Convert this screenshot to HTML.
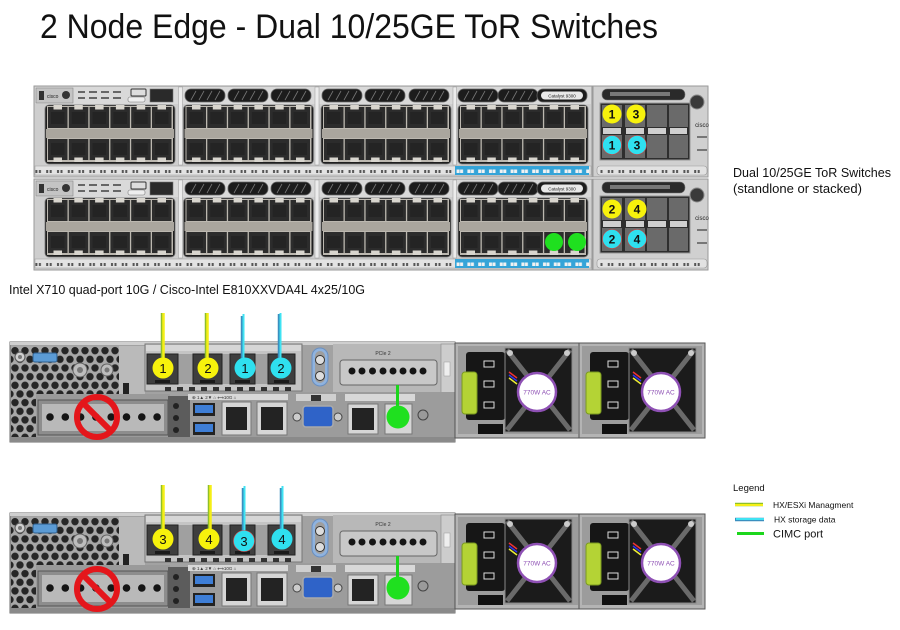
<!DOCTYPE html>
<html><head><meta charset="utf-8"><style>
html,body{margin:0;padding:0;background:#fff;}
svg{display:block;}
text{font-family:"Liberation Sans",sans-serif;}
</style></head><body>
<svg width="900" height="630" viewBox="0 0 900 630" xmlns="http://www.w3.org/2000/svg">
<defs>
 <pattern id="hex" width="10" height="17.32" patternUnits="userSpaceOnUse">
  <rect width="10" height="17.32" fill="#a8a8a8"/>
  <circle cx="0" cy="0" r="3.7" fill="#262626"/><circle cx="10" cy="0" r="3.7" fill="#262626"/>
  <circle cx="5" cy="8.66" r="3.7" fill="#262626"/>
  <circle cx="0" cy="17.32" r="3.7" fill="#262626"/><circle cx="10" cy="17.32" r="3.7" fill="#262626"/>
 </pattern>
 <pattern id="marks" width="10.8" height="9" patternUnits="userSpaceOnUse">
  <rect x="3" y="3" width="2" height="3" fill="#555"/><rect x="6.5" y="3" width="2" height="3" fill="#555"/>
 </pattern>
 <pattern id="marksB" width="10.8" height="9" patternUnits="userSpaceOnUse">
  <rect x="3" y="2.5" width="3" height="3.5" fill="#f2f2f2"/><rect x="6.5" y="2.5" width="3" height="3.5" fill="#f2f2f2"/>
 </pattern>
 <g id="cellU">
  <rect x="0" y="2" width="19.5" height="21" fill="#2c2c2c"/>
  <rect x="3" y="7" width="13.5" height="12" fill="#242424"/>
  <rect x="5.5" y="0" width="8.5" height="4.5" fill="#d8d5ce"/>
 </g>
 <g id="cellL">
  <rect x="0" y="0" width="19.5" height="21" fill="#2c2c2c"/>
  <rect x="3" y="4" width="13.5" height="12" fill="#242424"/>
  <rect x="5.5" y="18.5" width="8.5" height="4.5" fill="#d8d5ce"/>
 </g>
 <g id="grp">
  <rect x="0" y="0" width="130" height="59" rx="4" fill="#1f1f1f" stroke="#7a7a7a" stroke-width="0.8"/>
  <rect x="2" y="1" width="126" height="23" fill="#bcb8b0"/>
  <use href="#cellU" x="3" y="0"/><use href="#cellU" x="23.8" y="0"/><use href="#cellU" x="44.6" y="0"/>
  <use href="#cellU" x="65.4" y="0"/><use href="#cellU" x="86.2" y="0"/><use href="#cellU" x="107" y="0"/>
  <rect x="1" y="24" width="128" height="9" fill="#aaa69e"/>
  <rect x="2" y="33" width="126" height="24" fill="#bcb8b0"/>
  <use href="#cellL" x="3" y="34"/><use href="#cellL" x="23.8" y="34"/><use href="#cellL" x="44.6" y="34"/>
  <use href="#cellL" x="65.4" y="34"/><use href="#cellL" x="86.2" y="34"/><use href="#cellL" x="107" y="34"/>
 </g>
 <g id="slot">
  <rect x="0" y="0" width="40" height="13" rx="6" fill="#1c1c1c" stroke="#666" stroke-width="0.8"/>
  <path d="M6 11 L11 2 M14 11 L19 2 M22 11 L27 2 M30 11 L35 2" stroke="#777" stroke-width="0.8"/>
 </g>
 <g id="sw">
  <rect x="34" y="0" width="558" height="91" fill="#cecece" stroke="#9a9a9a"/>
  <rect x="35" y="1" width="556" height="17" fill="#d9d9d9"/>
  <rect x="36" y="2" width="37" height="15" fill="#c4c4c4" stroke="#888" stroke-width="0.6"/>
  <rect x="39" y="5" width="5" height="9" fill="#333"/>
  <text x="47" y="12" font-size="5" fill="#222">cisco</text>
  <circle cx="66" cy="9" r="4" fill="#333"/>
  <g fill="#666"><rect x="78" y="5" width="7" height="2"/><rect x="89" y="5" width="8" height="2"/><rect x="101" y="5" width="8" height="2"/><rect x="113" y="5" width="8" height="2"/>
  <rect x="78" y="11" width="7" height="2"/><rect x="89" y="11" width="8" height="2"/><rect x="101" y="11" width="8" height="2"/><rect x="113" y="11" width="8" height="2"/></g>
  <rect x="131" y="3" width="15" height="7" rx="1" fill="#ddd" stroke="#333" stroke-width="1"/>
  <rect x="128" y="11" width="17" height="5" rx="2" fill="#eee" stroke="#777" stroke-width="0.6"/>
  <rect x="150" y="3" width="23" height="13" fill="#2a2a2a" stroke="#777" stroke-width="0.6"/>
  <use href="#slot" x="185" y="3"/><use href="#slot" x="228" y="3"/><use href="#slot" x="271" y="3"/>
  <use href="#slot" x="322" y="3"/><use href="#slot" x="365" y="3"/><use href="#slot" x="409" y="3"/>
  <use href="#slot" x="458" y="3"/><use href="#slot" x="498" y="3"/>
  <rect x="537" y="3" width="50" height="13" rx="6" fill="#1c1c1c" stroke="#666" stroke-width="0.8"/>
  <rect x="541" y="5.5" width="42" height="8" rx="4" fill="#e8e8e8"/>
  <text x="562" y="11.5" font-size="4.5" fill="#222" text-anchor="middle">Catalyst 9300</text>
  <rect x="178.5" y="1" width="4" height="78" fill="#ececec" stroke="#999" stroke-width="0.5"/>
  <rect x="315" y="1" width="4" height="78" fill="#ececec" stroke="#999" stroke-width="0.5"/>
  <rect x="453" y="1" width="3.5" height="78" fill="#ececec" stroke="#999" stroke-width="0.5"/>
  <use href="#grp" x="45" y="19"/><use href="#grp" x="183.5" y="19"/>
  <use href="#grp" x="321" y="19"/><use href="#grp" x="458" y="19"/>
  <rect x="35" y="80" width="556" height="9" fill="#e3e3e3" stroke="#999" stroke-width="0.5"/>
  <rect x="35" y="80" width="420" height="9" fill="url(#marks)"/>
  <rect x="455" y="80" width="134" height="9" fill="#35a4d8"/>
  <rect x="455" y="80" width="134" height="9" fill="url(#marksB)"/>
  <rect x="593" y="0" width="115" height="91" fill="#d0d0d0" stroke="#999"/>
  <rect x="602" y="3" width="83" height="11" rx="5" fill="#2a2a2a" stroke="#777" stroke-width="0.6"/>
  <rect x="610" y="6" width="60" height="4" fill="#777"/>
  <circle cx="697" cy="16" r="7" fill="#3a3a3a" stroke="#888"/>
  <text x="702" y="41" font-size="6" fill="#222" text-anchor="middle">cisco</text>
  <rect x="697" y="50" width="10" height="2" fill="#777"/><rect x="697" y="63" width="10" height="2" fill="#777"/>
  <rect x="600" y="17" width="90" height="57" fill="#2e2e2e" stroke="#999"/>
  <g fill="#6a6a6a">
   <rect x="602" y="19" width="20" height="22"/><rect x="625" y="19" width="20" height="22"/><rect x="647" y="19" width="20" height="22"/><rect x="669" y="19" width="19" height="22"/>
   <rect x="602" y="49" width="20" height="23"/><rect x="625" y="49" width="20" height="23"/><rect x="647" y="49" width="20" height="23"/><rect x="669" y="49" width="19" height="23"/>
  </g>
  <g fill="#cfcfcf">
   <rect x="603" y="42" width="18" height="6"/><rect x="626" y="42" width="18" height="6"/><rect x="648" y="42" width="18" height="6"/><rect x="670" y="42" width="17" height="6"/>
  </g>
  <rect x="597" y="80" width="110" height="9" rx="3" fill="#e2e2e2" stroke="#999" stroke-width="0.6"/>
  <rect x="600" y="80" width="100" height="9" fill="url(#marks)"/>
 </g>

 <g id="srv">
  <rect x="10" y="0" width="445" height="100" fill="#a2a2a2" stroke="#6e6e6e"/>
  <rect x="10" y="0" width="445" height="3" fill="#cfcfcf"/>
  <rect x="11" y="4" width="108" height="48" fill="url(#hex)"/>
  <rect x="11" y="52" width="25" height="46" fill="url(#hex)"/>
  <rect x="33" y="11" width="24" height="9" rx="2" fill="#5b9bd5" stroke="#2e5e8c"/>
  <circle cx="20" cy="15" r="5" fill="#cfcfcf" stroke="#555"/><circle cx="20" cy="15" r="2" fill="#777"/>
  <circle cx="80" cy="28" r="7" fill="#bdbdbd" stroke="#666"/><circle cx="80" cy="28" r="3" fill="#777"/>
  <circle cx="107" cy="28" r="6" fill="#bdbdbd" stroke="#666"/><circle cx="107" cy="28" r="2.5" fill="#777"/>
  <rect x="119" y="4" width="26" height="48" fill="#bababa"/>
  <rect x="123" y="41" width="6" height="11" fill="#222"/>
  <rect x="36" y="52" width="134" height="46" fill="#9a9a9a"/>
  <rect x="38" y="58" width="130" height="35" fill="#8d8d8d" stroke="#555"/>
  <rect x="42" y="62" width="122" height="27" fill="#b9b9b9"/>
  <g fill="#151515">
   <circle cx="50" cy="75" r="3.8"/><circle cx="65.3" cy="75" r="3.8"/><circle cx="80.6" cy="75" r="3.8"/><circle cx="95.9" cy="75" r="3.8"/>
   <circle cx="111.2" cy="75" r="3.8"/><circle cx="126.5" cy="75" r="3.8"/><circle cx="141.8" cy="75" r="3.8"/><circle cx="157.1" cy="75" r="3.8"/>
  </g>
  <rect x="168" y="54" width="22" height="44" fill="#5c5c5c"/>
  <circle cx="176" cy="64" r="3" fill="#222"/><circle cx="176" cy="76" r="3" fill="#222"/><circle cx="176" cy="88" r="3" fill="#222"/>
  <rect x="145" y="2" width="157" height="47" fill="#c4c4c4" stroke="#777"/>
  <rect x="146" y="3" width="155" height="6" fill="#d6d6d6"/>
  <rect x="178" y="12" width="15" height="30" fill="#a0a0a0"/><rect x="222" y="12" width="8" height="30" fill="#a0a0a0"/><rect x="255" y="12" width="13" height="30" fill="#a0a0a0"/>
  <g fill="#3e3e3e" stroke="#222">
   <rect x="147" y="12" width="31" height="30"/><rect x="193" y="12" width="29" height="30"/>
   <rect x="230" y="12" width="25" height="30"/><rect x="268" y="12" width="27" height="30"/>
  </g>
  <g fill="#1a1a1a"><rect x="155" y="38" width="15" height="3"/><rect x="200" y="38" width="15" height="3"/><rect x="235" y="38" width="15" height="3"/><rect x="274" y="38" width="15" height="3"/></g>
  <g fill="#333"><rect x="165" y="45" width="6" height="4"/><rect x="177" y="45" width="6" height="4"/><rect x="189" y="45" width="6" height="4"/><rect x="201" y="45" width="6" height="4"/><rect x="213" y="45" width="6" height="4"/><rect x="225" y="45" width="6" height="4"/><rect x="237" y="45" width="6" height="4"/><rect x="249" y="45" width="6" height="4"/><rect x="261" y="45" width="6" height="4"/><rect x="273" y="45" width="6" height="4"/><rect x="285" y="45" width="6" height="4"/></g>
  <rect x="333" y="2" width="122" height="48" fill="#b8b8b8"/>
  <rect x="312" y="6" width="16" height="38" rx="8" fill="#8fb3df" stroke="#6a8fc0"/>
  <rect x="315" y="9" width="10" height="32" rx="5" fill="#9e9e9e"/>
  <circle cx="320" cy="18" r="4.5" fill="#ddd" stroke="#333"/><circle cx="320" cy="34" r="4.5" fill="#ddd" stroke="#333"/>
  <text x="383" y="13" font-size="5" fill="#333" text-anchor="middle">PCIe 2</text>
  <rect x="340" y="18" width="97" height="25" rx="3" fill="#c8c8c8" stroke="#666"/>
  <g fill="#151515">
   <circle cx="352" cy="29" r="3.5"/><circle cx="362" cy="29" r="3.5"/><circle cx="372.5" cy="29" r="3.5"/><circle cx="383" cy="29" r="3.5"/>
   <circle cx="393" cy="29" r="3.5"/><circle cx="403" cy="29" r="3.5"/><circle cx="413" cy="29" r="3.5"/><circle cx="423" cy="29" r="3.5"/>
  </g>
  <rect x="441" y="2" width="14" height="50" fill="#cdcdcd" stroke="#888" stroke-width="0.6"/>
  <rect x="444" y="20" width="6" height="14" fill="#eee" stroke="#999" stroke-width="0.5"/>
  <rect x="190" y="50" width="265" height="48" fill="#9c9c9c"/>
  <rect x="188" y="52" width="100" height="6" fill="#d8d8d8"/>
  <text x="192" y="57" font-size="4.5" fill="#333">⊕  1▲  2▼     ⌂  ⟷10G  ⌂</text>
  <rect x="193" y="61" width="22" height="13" fill="#222"/><rect x="195" y="63" width="18" height="8" fill="#3e7ed6"/>
  <rect x="193" y="80" width="22" height="13" fill="#222"/><rect x="195" y="82" width="18" height="8" fill="#3e7ed6"/>
  <g fill="#d6d6d6" stroke="#777"><rect x="222" y="60" width="29" height="33"/><rect x="257" y="60" width="30" height="33"/><rect x="348" y="62" width="30" height="30"/><rect x="385" y="62" width="27" height="30"/></g>
  <g fill="#232323"><rect x="226" y="65" width="21" height="23"/><rect x="261" y="65" width="22" height="23"/><rect x="352" y="66" width="22" height="22"/></g>
  <rect x="296" y="52" width="40" height="7" fill="#cfcfcf"/><rect x="311" y="53" width="10" height="6" fill="#333"/>
  <circle cx="297" cy="75" r="4" fill="#ccc" stroke="#444"/><circle cx="338" cy="75" r="4" fill="#ccc" stroke="#444"/>
  <rect x="303" y="64" width="30" height="21" rx="3" fill="#2f63c8" stroke="#aaa" stroke-width="1.5"/>
  <rect x="345" y="52" width="70" height="7" fill="#d8d8d8"/>
  <circle cx="423" cy="73" r="5" fill="#9a9a9a" stroke="#444"/>
  <line x1="397.5" y1="43" x2="397.5" y2="70" stroke="#1cd61c" stroke-width="3"/>
  <circle cx="398" cy="75" r="11.5" fill="#1fe01f"/>
  <rect x="10" y="95" width="445" height="5" fill="#8a8a8a"/>
  <g id="psu">
   <rect x="455" y="1" width="126" height="95" fill="#b4b4b4" stroke="#555"/>
   <rect x="458" y="4" width="120" height="88" fill="#9c9c9c"/>
   <rect x="466" y="10" width="39" height="68" rx="3" fill="#161616"/>
   <rect x="484" y="19" width="10" height="6" fill="#111" stroke="#ddd"/>
   <rect x="484" y="39" width="10" height="6" fill="#111" stroke="#ddd"/>
   <rect x="484" y="60" width="10" height="6" fill="#111" stroke="#ddd"/>
   <rect x="462" y="30" width="15" height="42" rx="3" fill="#b4d335" stroke="#7a9a20"/>
   <rect x="505" y="6" width="67" height="84" fill="#1b1b1b" stroke="#888"/>
   <path d="M507 8 L570 88 M570 8 L507 88" stroke="#6a6a6a" stroke-width="5"/>
   <circle cx="510" cy="11" r="3" fill="#ccc"/><circle cx="567" cy="11" r="3" fill="#ccc"/>
   <line x1="509" y1="30" x2="517" y2="36" stroke="#e33" stroke-width="1.5"/>
   <line x1="509" y1="33" x2="517" y2="39" stroke="#33e" stroke-width="1.5"/>
   <line x1="509" y1="36" x2="517" y2="42" stroke="#ee3" stroke-width="1.5"/>
   <circle cx="537" cy="50" r="19" fill="#fff" stroke="#8e50b4" stroke-width="2.5"/>
   <text x="537" y="52.5" font-size="6.5" fill="#8e50b4" text-anchor="middle">770W AC</text>
   <rect x="478" y="82" width="25" height="10" fill="#111"/>
  </g>
  <use href="#psu" x="124" y="0"/>
 </g>
</defs>

<text x="40" y="38" font-size="34" fill="#111" textLength="618" lengthAdjust="spacingAndGlyphs">2 Node Edge - Dual 10/25GE ToR Switches</text>

<use href="#sw" x="0" y="86"/>
<use href="#sw" x="0" y="179"/>

<g font-size="12" font-weight="bold" text-anchor="middle" fill="#111">
 <circle cx="612" cy="114" r="9.5" fill="#f7f20c"/><text x="612" y="118.5">1</text>
 <circle cx="636" cy="114" r="9.5" fill="#f7f20c"/><text x="636" y="118.5">3</text>
 <circle cx="612" cy="145" r="9.5" fill="#2fe0ef" stroke="#c44" stroke-width="0.6"/><text x="612" y="149.5">1</text>
 <circle cx="637" cy="145" r="9.5" fill="#2fe0ef" stroke="#c44" stroke-width="0.6"/><text x="637" y="149.5">3</text>
 <circle cx="612" cy="209" r="9.5" fill="#f7f20c"/><text x="612" y="213.5">2</text>
 <circle cx="637" cy="209" r="9.5" fill="#f7f20c"/><text x="637" y="213.5">4</text>
 <circle cx="612" cy="239" r="9.5" fill="#2fe0ef" stroke="#c44" stroke-width="0.6"/><text x="612" y="243.5">2</text>
 <circle cx="637" cy="239" r="9.5" fill="#2fe0ef" stroke="#c44" stroke-width="0.6"/><text x="637" y="243.5">4</text>
</g>
<circle cx="554" cy="242" r="9" fill="#1fe01f"/>
<circle cx="577" cy="242" r="9" fill="#1fe01f"/>

<text x="733" y="177" font-size="13" fill="#111" textLength="158" lengthAdjust="spacingAndGlyphs">Dual 10/25GE ToR Switches</text>
<text x="733" y="193" font-size="13" fill="#111" textLength="129" lengthAdjust="spacingAndGlyphs">(standlone or stacked)</text>

<text x="9" y="294" font-size="13" fill="#111" textLength="356" lengthAdjust="spacingAndGlyphs">Intel X710 quad-port 10G / Cisco-Intel E810XXVDA4L 4x25/10G</text>

<use href="#srv" x="0" y="342"/>
<use href="#srv" x="0" y="513"/>

<g fill="none" stroke="#e4161b" stroke-width="6">
 <circle cx="97" cy="417" r="20"/><line x1="83" y1="403" x2="111" y2="431"/>
 <circle cx="97" cy="589" r="20"/><line x1="83" y1="575" x2="111" y2="603"/>
</g>

<g>
 <line x1="162.5" y1="313" x2="162.5" y2="366" stroke="#8fbf2a" stroke-width="3.5"/>
 <line x1="163.5" y1="313" x2="163.5" y2="366" stroke="#f5ef16" stroke-width="2.5"/>
 <line x1="206.5" y1="313" x2="206.5" y2="366" stroke="#8fbf2a" stroke-width="3.5"/>
 <line x1="207.5" y1="313" x2="207.5" y2="366" stroke="#f5ef16" stroke-width="2.5"/>
 <line x1="242.5" y1="316" x2="242.5" y2="366" stroke="#3a8fbf" stroke-width="3.5"/>
 <line x1="243.5" y1="314" x2="243.5" y2="366" stroke="#3fe3f3" stroke-width="2"/>
 <line x1="279.5" y1="314" x2="279.5" y2="366" stroke="#3a8fbf" stroke-width="3.5"/>
 <line x1="280.5" y1="313" x2="280.5" y2="366" stroke="#3fe3f3" stroke-width="2"/>
</g>
<g>
 <line x1="162.5" y1="485" x2="162.5" y2="537" stroke="#8fbf2a" stroke-width="3.5"/>
 <line x1="163.5" y1="485" x2="163.5" y2="537" stroke="#f5ef16" stroke-width="2.5"/>
 <line x1="209.5" y1="485" x2="209.5" y2="537" stroke="#8fbf2a" stroke-width="3.5"/>
 <line x1="210.5" y1="485" x2="210.5" y2="537" stroke="#f5ef16" stroke-width="2.5"/>
 <line x1="243.5" y1="488" x2="243.5" y2="537" stroke="#3a8fbf" stroke-width="3.5"/>
 <line x1="244.5" y1="486" x2="244.5" y2="537" stroke="#3fe3f3" stroke-width="2"/>
 <line x1="281.5" y1="488" x2="281.5" y2="537" stroke="#3a8fbf" stroke-width="3.5"/>
 <line x1="282.5" y1="486" x2="282.5" y2="537" stroke="#3fe3f3" stroke-width="2"/>
</g>

<g font-size="13" text-anchor="middle" fill="#111">
 <circle cx="163" cy="368" r="10.5" fill="#f7f20c"/><text x="163" y="373">1</text>
 <circle cx="208" cy="368" r="10.5" fill="#f7f20c"/><text x="208" y="373">2</text>
 <circle cx="245" cy="368" r="10.5" fill="#2fe0ef"/><text x="245" y="373">1</text>
 <circle cx="281" cy="368" r="10.5" fill="#2fe0ef"/><text x="281" y="373">2</text>
 <circle cx="163" cy="539" r="10.5" fill="#f7f20c"/><text x="163" y="544">3</text>
 <circle cx="209" cy="539" r="10.5" fill="#f7f20c"/><text x="209" y="544">4</text>
 <circle cx="244" cy="541" r="10.5" fill="#2fe0ef" stroke="#d55" stroke-width="0.6"/><text x="244" y="546">3</text>
 <circle cx="282" cy="539" r="10.5" fill="#2fe0ef"/><text x="282" y="544">4</text>
</g>

<text x="733" y="491" font-size="9.5" fill="#111">Legend</text>
<line x1="735" y1="504.5" x2="763" y2="504.5" stroke="#8fbf2a" stroke-width="3.5"/>
<line x1="735" y1="505" x2="763" y2="505" stroke="#f5ef16" stroke-width="2"/>
<text x="773" y="508" font-size="8.5" fill="#111">HX/ESXi  Managment</text>
<line x1="735" y1="519.5" x2="764" y2="519.5" stroke="#3a8fbf" stroke-width="3.5"/>
<line x1="736" y1="519" x2="764" y2="519" stroke="#3fe3f3" stroke-width="2"/>
<text x="774" y="522.5" font-size="8.5" fill="#111">HX storage data</text>
<line x1="737" y1="533.5" x2="764" y2="533.5" stroke="#1cd61c" stroke-width="3"/>
<text x="773" y="537.5" font-size="11" fill="#111">CIMC port</text>
</svg>
</body></html>
